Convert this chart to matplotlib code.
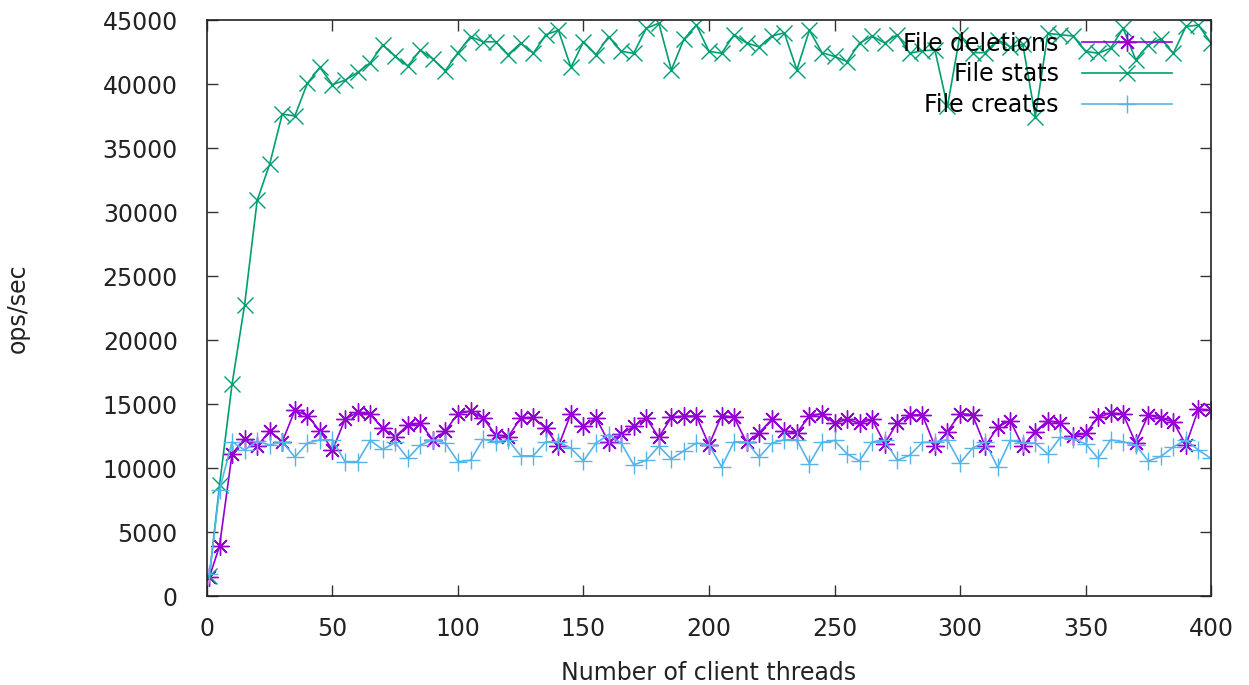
#! /usr/bin/env python3

#A program to plot file operation rates against the number of client threads.

import numpy as np
import matplotlib
matplotlib.use('Agg')
import matplotlib.pyplot as plt

#Number of client threads used in each run.
threads = [1, 5, 10, 15, 20, 25, 30, 35, 40, 45, 50, 55, 60, 65, 70, 75, 80, 85, 90, 95,
           100, 105, 110, 115, 120, 125, 130, 135, 140, 145, 150, 155, 160, 165, 170, 175,
           180, 185, 190, 195, 200, 205, 210, 215, 220, 225, 230, 235, 240, 245, 250, 255,
           260, 265, 270, 275, 280, 285, 290, 295, 300, 305, 310, 315, 320, 325, 330, 335,
           340, 345, 350, 355, 360, 365, 370, 375, 380, 385, 390, 395, 400]

#ops/sec for file deletions.
deletions = [1500, 3900, 11100, 12300, 11700, 12900, 12050, 14500, 14100, 12900,
             11400, 13800, 14350, 14200, 13100, 12450, 13350, 13500, 12200, 12900,
             14250, 14450, 13900, 12600, 12450, 13900, 13950, 13100, 11700, 14250,
             13300, 13900, 12050, 12650, 13250, 13900, 12400, 13950, 14050, 14050,
             11800, 14100, 13950, 12000, 12750, 13800, 12900, 12750, 14050, 14250,
             13500, 13800, 13500, 13800, 11900, 13550, 14150, 14150, 11700, 12850,
             14250, 14150, 11700, 13200, 13700, 11700, 12850, 13700, 13500, 12500,
             12700, 13950, 14300, 14200, 11950, 14150, 13900, 13600, 11800, 14600,
             14500]

#ops/sec for file stats.
stats = [1600, 8650, 16550, 22750, 30900, 33750, 37650, 37500, 40050, 41300,
         39950, 40300, 40900, 41650, 43050, 42150, 41400, 42650, 41950, 41050,
         42450, 43700, 43300, 43300, 42300, 43200, 42400, 43850, 44200, 41300,
         43300, 42300, 43700, 42550, 42400, 44350, 44750, 41100, 43500, 44600,
         42550, 42400, 43850, 43200, 42900, 43750, 44000, 41100, 44200, 42450,
         42150, 41750, 43200, 43750, 43200, 43850, 42400, 42600, 42650, 38250,
         43850, 42450, 42450, 43450, 42900, 43100, 37450, 43950, 43850, 43750,
         42550, 42400, 42800, 44350, 41900, 43050, 43550, 42400, 44500, 44600,
         43200]

#ops/sec for file creates.
creates = [1700, 8300, 12050, 11400, 12100, 11800, 12050, 10850, 11950, 12200,
           12200, 10500, 10500, 12150, 11450, 12000, 10750, 11800, 12200, 11950,
           10500, 10600, 12250, 12050, 12200, 10950, 10950, 12050, 12050, 11550,
           10550, 11950, 12600, 11950, 10250, 10600, 11700, 10700, 11350, 11950,
           11800, 10100, 12050, 12050, 10850, 11950, 12200, 12200, 10350, 12000,
           12150, 11100, 10550, 12050, 12150, 10600, 11000, 12000, 12050, 12200,
           10400, 11550, 12050, 10050, 12150, 11950, 11950, 11100, 12400, 12250,
           11900, 10750, 12200, 12050, 11800, 10550, 10900, 11650, 12200, 11400,
           10750]

seriesLabels = ['File deletions', 'File stats', 'File creates']
xTicks = [0, 50, 100, 150, 200, 250, 300, 350, 400]
yTicks = [0, 5000, 10000, 15000, 20000, 25000, 30000, 35000, 40000, 45000]

##################################################################################

def plotOps(outfile) :

  plt.rcParams.update({'font.size': 17, 'font.family': 'DejaVu Sans'})
  textColor = '#222222'

  fig = plt.figure(figsize = (12.49, 6.85), dpi = 100)
  ax = fig.add_axes([0.1657, 0.1299, 0.8039, 0.8409])

  #gnuplot style markers and colours.
  star = (8, 2, 0)
  ax.plot(threads, deletions, color = '#9400d3', marker = star, markersize = 13,
          markeredgewidth = 1.0, linewidth = 1.2, label = seriesLabels[0])
  ax.plot(threads, stats, color = '#009e73', marker = 'x', markersize = 11,
          markeredgewidth = 1.0, linewidth = 1.2, label = seriesLabels[1])
  ax.plot(threads, creates, color = '#56b4e9', marker = '+', markersize = 13,
          markeredgewidth = 1.0, linewidth = 1.2, label = seriesLabels[2])

  ax.set_xlim(0, 400)
  ax.set_ylim(0, 45000)
  ax.set_xticks(xTicks)
  ax.set_yticks(yTicks)
  ax.tick_params(direction = 'in', length = 8, width = 1, top = True, right = True,
                 colors = '#333333', labelcolor = textColor)
  ax.tick_params(axis = 'x', pad = 15)
  ax.tick_params(axis = 'y', pad = 21)
  for side in ax.spines.values() :
    side.set_linewidth(1.2)
    side.set_color(textColor)
  #End of for loop - for side in ax.spines.values() :

  ax.set_xlabel('Number of client threads', color = textColor)
  ax.set_ylabel('ops/sec', color = textColor)
  ax.xaxis.set_label_coords(0.5, -0.112)
  ax.yaxis.set_label_coords(-0.176, 0.5)

  #Legend with the text to the left of the sample line, no frame.
  ax.legend(loc = 'upper right', bbox_to_anchor = (0.961, 0.980), frameon = False,
            markerfirst = False, handlelength = 3.8, handletextpad = 1.0,
            labelspacing = 0.29, borderaxespad = 0.0, borderpad = 0.0, fontsize = 17)

  fig.savefig(outfile, dpi = 100)
  plt.close(fig)
#End of the function plotOps.

##################################################################################

def main() :
  plotOps('out.png')

if __name__ == '__main__':
  main()
